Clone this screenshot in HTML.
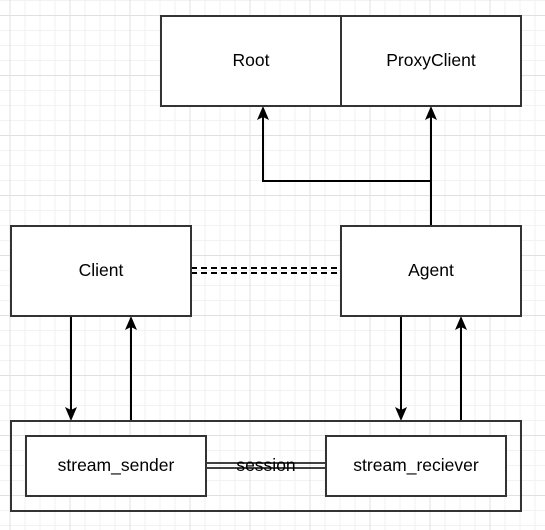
<!DOCTYPE html>
<html><head><style>
html,body{margin:0;padding:0;background:#fff;}
svg{display:block;}
text{font-family:"Liberation Sans",Arial,sans-serif;font-size:17.5px;fill:#000;}
</style></head><body>
<svg width="545" height="530" viewBox="0 0 545 530" xmlns="http://www.w3.org/2000/svg">
<defs>
<pattern id="minor" x="9.5" y="0" width="15" height="15" patternUnits="userSpaceOnUse">
<path d="M0.5 0V15M0 0.5H15" stroke="#f2f2f2" stroke-width="1" fill="none"/>
</pattern>
<pattern id="major" x="9.5" y="15" width="60" height="60" patternUnits="userSpaceOnUse">
<path d="M0.5 0V60M0 0.5H60" stroke="#e0e0e0" stroke-width="1" fill="none"/>
</pattern>
</defs>
<rect width="545" height="530" fill="#fff"/>
<rect width="545" height="530" fill="url(#minor)"/>
<rect width="545" height="530" fill="url(#major)"/>
<g stroke="#000" stroke-width="2" fill="none">
<path d="M431 226V113"/>
<path d="M431 181H263V113"/>
<path d="M71 316V413"/>
<path d="M131 421V324"/>
<path d="M401 316V413"/>
<path d="M461 421V324"/>
</g>
<g stroke="#000" stroke-width="2" stroke-dasharray="6,4">
<path d="M191 268H341"/><path d="M191 273H341"/>
</g>
<g stroke="#000" stroke-width="1.5">
<path d="M206 463H326"/><path d="M206 468H326"/>
</g>
<g fill="#000">
<path d="M263 106l-6 14 6-3 6 3z"/>
<path d="M431 106l-6 14 6-3 6 3z"/>
<path d="M131 316l-6 14 6-3 6 3z"/>
<path d="M461 316l-6 14 6-3 6 3z"/>
<path d="M71 421l-6-14 6 3 6-3z"/>
<path d="M401 421l-6-14 6 3 6-3z"/>
</g>
<g stroke="#333" stroke-width="2" fill="#fff">
<rect x="161" y="16" width="180" height="90"/>
<rect x="341" y="16" width="180" height="90"/>
<rect x="11" y="226" width="180" height="90"/>
<rect x="341" y="226" width="180" height="90"/>
<rect x="11" y="421" width="510" height="90" fill="none"/>
<rect x="26" y="436" width="180" height="60"/>
<rect x="326" y="436" width="180" height="60"/>
</g>
<g text-anchor="middle">
<text x="251" y="66">Root</text>
<text x="431" y="66">ProxyClient</text>
<text x="101" y="276">Client</text>
<text x="431" y="276">Agent</text>
<text x="116" y="471">stream_sender</text>
<text x="416" y="471">stream_reciever</text>
<text x="266" y="471">session</text>
</g>
</svg>
</body></html>
